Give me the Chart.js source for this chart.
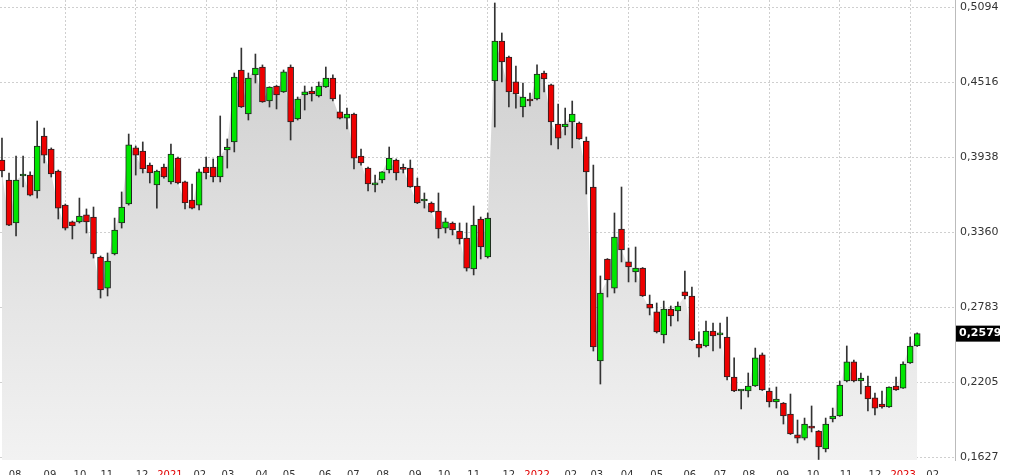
<!DOCTYPE html>
<html>
<head>
<meta charset="utf-8">
<script src="https://cdn.jsdelivr.net/npm/chart.js@4/dist/chart.umd.min.js"></script>
<style>
  html, body { margin: 0; padding: 0; background: #fff; }
  #wrap { width: 1024px; height: 475px; }
</style>
</head>
<body>
<div id="wrap"><canvas id="chart"></canvas></div>
<script>
// weekly OHLC
const open = [0.3916,0.3762,0.3431,0.3793,0.3800,0.3677,0.4101,0.4001,0.3831,0.3569,
  0.3439,0.3439,0.3493,0.3477,0.3169,0.2930,0.3192,0.3431,0.3577,0.4009,
  0.3985,0.3877,0.3724,0.3862,0.3747,0.3931,0.3747,0.3608,0.3569,0.3862,
  0.3862,0.3785,0.3993,0.4055,0.4609,0.4270,0.4571,0.4632,0.4370,0.4486,
  0.4440,0.4632,0.4232,0.4417,0.4447,0.4409,0.4478,0.4547,0.4286,0.4239,
  0.4270,0.3947,0.3854,0.3724,0.3762,0.3839,0.3916,0.3847,0.3854,0.3716,
  0.3600,0.3585,0.3523,0.3392,0.3431,0.3369,0.3315,0.3077,0.3462,0.3169,
  0.4524,0.4832,0.4709,0.4517,0.4324,0.4378,0.4386,0.4586,0.4494,0.4193,
  0.4170,0.4209,0.4201,0.4062,0.3708,0.2368,0.3154,0.2930,0.3385,0.3131,
  0.3054,0.3084,0.2807,0.2746,0.2569,0.2769,0.2753,0.2900,0.2869,0.2499,
  0.2484,0.2599,0.2569,0.2553,0.2245,0.2137,0.2137,0.2176,0.2415,0.2137,
  0.2053,0.2045,0.1960,0.1799,0.1775,0.1868,0.1829,0.1691,0.1922,0.1945,
  0.2214,0.2361,0.2214,0.2176,0.2084,0.2037,0.2014,0.2176,0.2160,0.2353,0.2484];
const high = [0.4085,0.3816,0.3947,0.3947,0.3824,0.4216,0.4162,0.4009,0.3839,0.3577,
  0.3446,0.3623,0.3539,0.3554,0.3177,0.3200,0.3469,0.3670,0.4116,0.4024,
  0.4055,0.3893,0.3839,0.3885,0.4039,0.3939,0.3754,0.3731,0.3847,0.3939,
  0.3924,0.4255,0.4078,0.4586,0.4778,0.4586,0.4732,0.4648,0.4480,0.4490,
  0.4609,0.4648,0.4401,0.4486,0.4478,0.4517,0.4632,0.4571,0.4417,0.4316,
  0.4278,0.4001,0.3862,0.3800,0.3826,0.4016,0.3924,0.3885,0.3916,0.3777,
  0.3662,0.3593,0.3662,0.3469,0.3439,0.3431,0.3431,0.3562,0.3477,0.3508,
  0.5125,0.4894,0.4717,0.4640,0.4509,0.4432,0.4648,0.4601,0.4501,0.4347,
  0.4316,0.4370,0.4209,0.4093,0.3877,0.3023,0.3157,0.3508,0.3708,0.3238,
  0.3246,0.3088,0.2876,0.2815,0.2830,0.2792,0.2823,0.3061,0.2938,0.2592,
  0.2676,0.2661,0.2661,0.2707,0.2392,0.2147,0.2276,0.2468,0.2430,0.2160,
  0.2168,0.2049,0.2114,0.1914,0.1929,0.2022,0.1833,0.1929,0.2006,0.2214,
  0.2484,0.2376,0.2276,0.2253,0.2122,0.2137,0.2170,0.2245,0.2361,0.2553,0.2585];
const low = [0.3785,0.3410,0.3331,0.3708,0.3640,0.3623,0.3893,0.3785,0.3462,0.3377,
  0.3308,0.3431,0.3354,0.3161,0.2853,0.2869,0.3185,0.3392,0.3569,0.3800,
  0.3816,0.3739,0.3546,0.3777,0.3731,0.3731,0.3539,0.3540,0.3531,0.3770,
  0.3747,0.3747,0.3854,0.3978,0.4320,0.4224,0.4509,0.4360,0.4324,0.4309,
  0.4436,0.4070,0.4224,0.4301,0.4370,0.4401,0.4474,0.4370,0.4232,0.4155,
  0.3847,0.3877,0.3677,0.3670,0.3739,0.3816,0.3762,0.3816,0.3705,0.3580,
  0.3546,0.3512,0.3315,0.3354,0.3339,0.3269,0.3061,0.3031,0.3154,0.3161,
  0.4170,0.4517,0.4324,0.4316,0.4247,0.4332,0.4378,0.4440,0.4032,0.4001,
  0.4109,0.4009,0.4075,0.3654,0.2445,0.2191,0.2861,0.2892,0.3131,0.2977,
  0.2977,0.2865,0.2723,0.2584,0.2507,0.2638,0.2676,0.2846,0.2525,0.2399,
  0.2476,0.2445,0.2468,0.2222,0.2133,0.1999,0.2091,0.2172,0.2141,0.2014,
  0.2006,0.1883,0.1802,0.1737,0.1760,0.1822,0.1610,0.1668,0.1899,0.1942,
  0.2207,0.2207,0.2114,0.1983,0.1953,0.2006,0.2010,0.2142,0.2157,0.2350,0.2480];
const close = [0.3831,0.3415,0.3762,0.3800,0.3646,0.4024,0.3954,0.3808,0.3546,0.3392,
  0.3408,0.3485,0.3439,0.3192,0.2915,0.3138,0.3377,0.3554,0.4032,0.3954,
  0.3847,0.3816,0.3831,0.3785,0.3962,0.3739,0.3585,0.3546,0.3824,0.3816,
  0.3785,0.3947,0.4016,0.4555,0.4324,0.4547,0.4624,0.4363,0.4478,0.4417,
  0.4594,0.4209,0.4386,0.4440,0.4424,0.4486,0.4547,0.4386,0.4239,0.4270,
  0.3931,0.3893,0.3731,0.3731,0.3824,0.3931,0.3816,0.3844,0.3708,0.3585,
  0.3608,0.3516,0.3385,0.3439,0.3377,0.3308,0.3084,0.3415,0.3246,0.3469,
  0.4832,0.4671,0.4440,0.4424,0.4401,0.4370,0.4578,0.4540,0.4209,0.4085,
  0.4193,0.4270,0.4078,0.3824,0.2476,0.2892,0.2992,0.3323,0.3223,0.3092,
  0.3084,0.2869,0.2776,0.2592,0.2769,0.2715,0.2792,0.2869,0.2530,0.2468,
  0.2599,0.2561,0.2576,0.2245,0.2137,0.2145,0.2176,0.2392,0.2145,0.2053,
  0.2076,0.1945,0.1806,0.1775,0.1883,0.1852,0.1706,0.1883,0.1945,0.2183,
  0.2361,0.2214,0.2237,0.2076,0.2006,0.2014,0.2168,0.2145,0.2345,0.2484,0.2579];

const yTicks = [0.1627, 0.2205, 0.2783, 0.3360, 0.3938, 0.4516, 0.5094];
// month labels and their position in candle units
const monthLabels = ["08","09","10","11","12","2021","02","03","04","05","06","07","08","09","10","11",
  "12","2022","02","03","04","05","06","07","08","09","10","11","12","2023","02"];
const monthPos = [1.85,6.82,11.08,14.9,19.9,23.86,28.1,32.1,36.9,40.8,45.9,49.9,54.1,58.7,62.8,67,
  72,76,80.8,84.5,88.8,93,97.7,102,106.1,110.9,115.2,119.9,124,128,132.2];
const gridPos = [9,19,29,39,49,59,69,79,89,99,109,119,129];

const fmt = v => v.toFixed(4).replace(".", ",");
const up = close.map((c, i) => c >= open[i]);
const noPad = s => { s.paddingLeft = 0; s.paddingRight = 0; s.paddingTop = 0; s.paddingBottom = 0; };

const lastPrice = {
  id: "lastPrice",
  afterDraw(chart) {
    const ctx = chart.ctx, y = chart.scales.y.getPixelForValue(close[close.length - 1]);
    const x0 = chart.chartArea.right + 1;
    ctx.save();
    ctx.fillStyle = "#000";
    ctx.fillRect(x0, y - 8, 44, 16);
    ctx.fillStyle = "#fff";
    ctx.font = "bold 11px 'DejaVu Sans', sans-serif";
    ctx.textBaseline = "middle";
    ctx.fillText(fmt(close[close.length - 1]), x0 + 3, y);
    ctx.restore();
  }
};

new Chart(document.getElementById("chart"), {
  data: {
    datasets: [
      {
        type: "bar",
        data: open.map((o, i) => ({ x: i, y: [o, close[i]] })),
        backgroundColor: up.map(u => u ? "#00e600" : "#ee0000"),
        borderColor: "#222",
        borderWidth: 1,
        borderSkipped: false,
        barThickness: 6,
        minBarLength: 2,
        grouped: false,
        order: 0
      },
      {
        type: "bar",
        data: low.map((l, i) => ({ x: i, y: [l, high[i]] })),
        backgroundColor: "#333",
        barThickness: 1,
        grouped: false,
        order: 1
      },
      {
        type: "line",
        data: close.map((c, i) => ({ x: i, y: c })),
        borderWidth: 0,
        pointRadius: 0,
        tension: 0,
        fill: "start",
        backgroundColor: ctx => {
          const a = ctx.chart.chartArea;
          if (!a) return "#ddd";
          const g = ctx.chart.ctx.createLinearGradient(0, a.top, 0, a.bottom);
          g.addColorStop(0, "#cccccc");
          g.addColorStop(1, "#f2f2f2");
          return g;
        },
        order: 2
      }
    ]
  },
  options: {
    responsive: true,
    maintainAspectRatio: false,
    animation: false,
    layout: { padding: 0 },
    plugins: { legend: { display: false }, tooltip: { enabled: false } },
    scales: {
      x: {
        type: "linear", min: -0.28, max: 135.37, offset: false,
        afterBuildTicks: s => { s.ticks = monthPos.map(v => ({ value: v })); },
        afterFit: s => { s.height = 15; noPad(s); },
        grid: { display: false },
        border: { display: false },
        ticks: {
          autoSkip: false, maxRotation: 0, padding: 1,
          font: { size: 10, family: "'DejaVu Sans', sans-serif" },
          color: c => monthLabels[c.index].length === 4 ? "#e00000" : "#333",
          callback: (v, i) => monthLabels[i]
        }
      },
      xg: {
        type: "linear", min: -0.28, max: 135.37, offset: false, display: true,
        afterBuildTicks: s => { s.ticks = gridPos.map(v => ({ value: v })); },
        afterFit: s => { s.height = 0; noPad(s); },
        grid: { color: "#cfcfcf", tickLength: 0, lineWidth: 1, offset: false },
        border: { display: false, dash: [2, 2] },
        ticks: { display: false }
      },
      y: {
        position: "right",
        min: 0.1606, max: 0.5148,
        afterBuildTicks: s => { s.ticks = yTicks.map(v => ({ value: v })); },
        afterFit: s => { s.width = 69; noPad(s); },
        grid: { color: "#cfcfcf", tickLength: 0 },
        border: { color: "#bbb", dash: [2, 2] },
        ticks: {
          padding: 5,
          font: { size: 11, family: "'DejaVu Sans', sans-serif" },
          color: "#333",
          callback: v => fmt(v)
        }
      }
    }
  },
  plugins: [lastPrice]
});
</script>
</body>
</html>
